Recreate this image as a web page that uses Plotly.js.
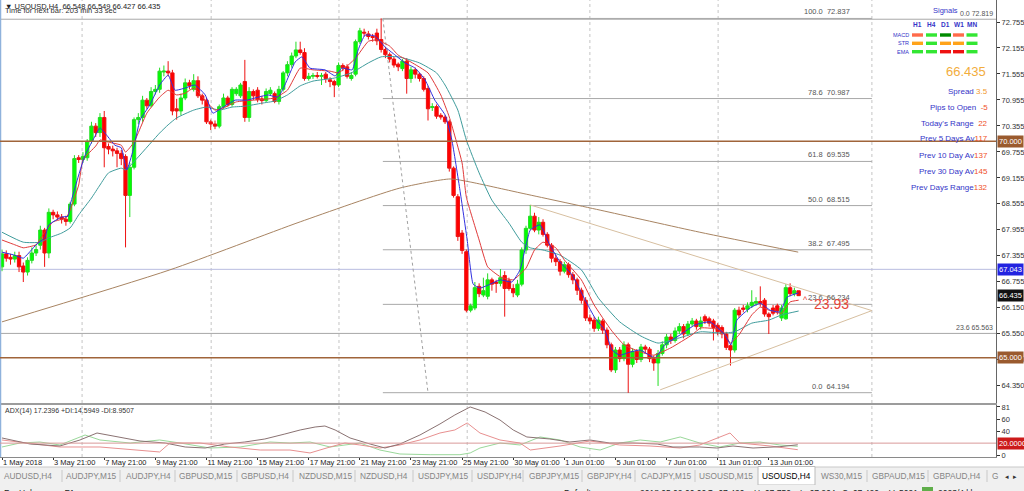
<!DOCTYPE html>
<html><head><meta charset="utf-8">
<script src="https://cdn.plot.ly/plotly-3.0.1.min.js"></script>
<style>html,body{margin:0;padding:0;background:#fff;overflow:hidden}#chart{width:1024px;height:491px}</style>
</head><body><div id="chart"></div>
<script>
// ---------- DATA ----------
const openP = [67.10,67.40,67.32,67.28,67.36,67.12,66.98,67.25,67.42,67.60,67.95,67.42,68.36,68.30,68.25,68.20,68.15,68.55,69.62,69.58,69.62,70.00,70.35,70.20,70.55,69.88,69.82,69.78,69.72,69.65,68.75,69.40,70.50,70.55,70.95,70.82,71.15,71.20,71.60,71.62,71.58,70.75,70.70,71.00,71.35,71.20,71.40,71.05,70.95,70.45,70.40,70.35,70.80,71.00,70.85,71.10,71.05,71.38,70.55,71.15,71.18,70.98,70.94,71.10,71.10,70.92,71.20,71.58,71.77,71.97,72.11,72.05,71.45,71.50,71.52,71.50,71.55,71.42,71.38,71.30,71.75,71.72,71.45,71.55,72.30,72.52,72.48,72.42,72.50,72.35,72.12,72.00,71.90,71.78,71.68,71.85,71.45,71.65,71.55,71.45,71.22,70.78,70.80,70.60,70.56,70.45,69.38,68.72,67.88,67.45,66.10,66.15,66.65,66.45,66.42,66.80,66.75,66.72,66.90,66.78,66.60,66.45,66.70,67.49,67.99,68.27,67.95,68.13,67.85,67.60,67.30,67.22,67.00,67.15,66.92,66.80,66.56,66.33,65.92,65.87,65.68,65.85,65.64,65.30,64.72,65.18,64.98,65.30,64.85,65.15,64.96,65.25,65.20,64.98,64.88,65.10,65.30,65.48,65.40,65.62,65.72,65.55,65.78,65.85,65.72,65.95,65.90,65.85,65.75,65.70,65.55,65.28,65.18,66.10,66.15,66.12,66.20,66.26,66.30,66.33,66.01,66.15,66.20,65.92,65.90,66.62,66.48,66.548];
const highP = [67.50,67.48,67.40,67.45,67.45,67.20,67.32,67.55,67.60,68.05,68.00,68.45,68.42,68.38,68.32,68.28,68.60,69.68,69.68,69.75,70.05,70.45,70.42,70.65,70.70,69.95,69.90,69.85,69.80,69.70,69.50,70.55,70.65,71.05,71.00,71.25,71.30,71.70,71.75,71.85,71.65,70.98,71.10,71.45,71.42,71.55,71.50,71.10,71.00,70.50,70.48,70.85,71.10,71.05,71.25,71.25,71.35,71.88,71.25,71.20,71.25,71.05,71.22,71.25,71.15,71.28,71.62,71.85,72.05,72.30,72.30,72.15,71.58,71.58,71.60,71.58,71.60,71.48,71.42,71.82,71.80,71.78,71.60,72.35,72.62,72.60,72.55,72.48,72.60,72.84,72.18,72.05,71.95,71.82,71.90,71.92,71.72,71.70,71.58,71.50,71.28,70.88,70.85,70.65,70.60,70.50,69.42,68.78,67.95,67.50,66.25,66.75,66.72,66.85,66.95,66.85,66.80,67.05,67.00,66.85,66.70,66.80,67.55,68.05,68.53,68.35,68.25,68.20,67.90,67.65,67.38,67.28,67.22,67.20,66.98,66.85,66.62,66.40,66.00,65.95,65.95,65.90,65.70,65.35,65.25,65.25,65.38,65.35,65.22,65.20,65.32,65.30,65.25,65.05,65.18,65.38,65.55,65.55,65.70,65.80,65.78,65.85,65.92,65.90,65.95,66.00,65.95,65.90,65.80,65.75,65.60,65.32,66.15,66.18,66.22,66.28,66.56,66.40,66.65,66.38,66.05,66.22,66.25,66.22,66.70,66.72,66.62,66.549];
const lowP = [67.00,67.22,67.15,67.20,66.98,66.75,66.90,67.18,67.35,67.50,67.10,67.30,68.20,68.18,68.10,68.05,68.10,68.50,69.50,69.50,69.55,69.95,70.10,70.10,69.40,69.70,69.65,69.40,69.45,67.55,68.25,69.35,70.40,70.45,70.75,70.78,71.08,71.12,71.50,71.50,70.60,70.50,70.60,70.95,71.20,71.15,71.00,70.85,70.40,70.26,70.28,70.30,70.75,70.80,70.80,71.05,71.00,70.45,70.45,70.95,70.90,70.85,70.90,71.05,70.88,70.85,71.15,71.50,71.70,71.92,72.00,71.40,71.40,71.44,71.45,71.30,71.35,71.25,71.02,71.25,71.62,71.45,71.40,71.50,72.25,72.42,72.35,72.30,72.22,72.05,71.92,71.82,71.70,71.62,71.62,71.10,71.35,71.45,71.38,71.15,70.48,70.70,70.52,70.50,70.40,69.30,68.70,67.70,67.40,66.05,66.05,66.10,66.40,66.40,66.35,66.55,66.50,66.65,65.95,66.55,66.40,66.40,66.65,67.40,67.95,67.90,67.85,67.80,67.55,67.20,67.12,66.90,66.95,66.85,66.70,66.45,66.25,65.85,65.78,65.60,65.62,65.55,65.22,64.67,64.65,64.90,64.92,64.19,64.78,64.88,64.90,65.10,64.90,64.70,64.35,65.05,65.22,65.32,65.35,65.55,65.45,65.50,65.72,65.65,65.65,65.78,65.72,65.40,65.52,65.45,65.18,64.82,65.12,65.92,66.05,66.05,66.15,66.20,66.18,65.95,65.55,65.98,66.00,65.85,65.88,66.42,66.42,66.427];
const closeP = [67.40,67.30,67.28,67.36,67.10,66.98,67.25,67.42,67.50,67.95,67.42,68.36,68.30,68.25,68.20,68.15,68.55,69.60,69.58,69.65,70.00,70.35,70.20,70.55,69.85,69.82,69.78,69.72,69.60,68.75,69.40,70.50,70.55,70.95,70.82,71.15,71.20,71.62,71.62,71.58,70.70,70.70,71.00,71.35,71.28,71.40,71.05,70.95,70.45,70.40,70.35,70.80,71.00,70.85,71.20,71.20,71.30,70.55,71.15,71.05,70.96,70.94,71.15,71.18,70.92,71.20,71.58,71.77,71.97,72.11,72.05,71.45,71.50,71.52,71.50,71.52,71.45,71.38,71.30,71.75,71.70,71.50,71.52,72.30,72.55,72.50,72.42,72.40,72.32,72.12,72.00,71.90,71.76,71.72,71.85,71.45,71.65,71.55,71.45,71.20,70.75,70.80,70.58,70.56,70.45,69.38,68.75,67.80,67.48,66.10,66.20,66.62,66.48,66.55,66.80,66.70,66.72,66.85,66.60,66.60,66.50,66.70,67.49,67.99,68.27,67.95,68.13,67.85,67.60,67.30,67.22,67.00,67.15,66.92,66.80,66.56,66.33,65.92,65.85,65.68,65.87,65.64,65.30,64.72,65.18,64.98,65.30,64.85,65.15,64.96,65.25,65.20,64.98,64.88,65.10,65.30,65.48,65.40,65.62,65.72,65.55,65.78,65.85,65.72,65.85,65.85,65.80,65.70,65.60,65.55,65.24,65.18,66.10,65.99,66.12,66.20,66.28,66.30,66.26,66.01,65.95,66.03,66.08,66.15,66.62,66.48,66.55,66.435];

// moving averages (bar index, price)
const emaFastX = [0,3,5,8,10,11,14,15.5,16,18,19.5,22,23,24.5,26.5,28,29.3,30.8,32.4,34.7,37,39,40.6,43,45.3,47.7,49.5,51.6,54.7,57.5,59.4,62.4,64.8,66.4,68.8,70.4,72.3,75.8,78.2,79.8,82.2,83.6,85.2,87.6,89.9,92.3,94.6,97,99.3,101.6,104,105.6,107.5,109.2,110.6,112.2,114.6,116.9,119.7,121.6,124,126.3,128.6,131,133.8,136.9,139.2,141.5,143.2,145,147.4,149.8,153.3,155.6,159.2,162.7,166.2,169.7,171.1,172.5,175.6,178,180.3,182.6,184.3,187];
const emaFastY = [67.44,67.37,67.30,67.61,67.77,68.07,68.25,68.27,68.53,69.22,69.68,70.15,70.31,70.15,69.91,69.85,69.34,69.80,70.49,70.84,71.30,71.53,71.18,71.23,71.30,71.07,70.65,70.77,70.95,70.95,71.00,71.07,71.02,71.30,71.83,71.95,71.69,71.65,71.51,71.69,71.65,72.11,72.45,72.43,72.18,71.99,71.81,71.69,71.42,70.95,70.61,70.03,68.87,67.72,66.70,66.61,66.70,66.80,66.75,67.03,67.95,68.07,67.60,67.21,66.92,66.33,65.92,65.64,65.18,65.06,65.13,65.18,65.00,65.30,65.53,65.76,65.83,65.53,65.30,65.87,66.15,66.26,66.10,66.06,66.40,66.50];
const emaMidX = [0,3,5,8,10,12,15,16,18,19,22,23,25,28,29,31,34,37,39,41,43,45,48,50,52,55,59,64,67,70,73,77,79,83,86,88,91,93,96,100,103,105,108,109,112,114,117,120,123,125,127,130,132,136,139,143,146,150,153,157,162,164,169,171,173,176,178,180,183,185,187];
const emaMidY = [67.72,67.61,67.54,67.61,67.90,68.14,68.23,68.41,68.99,69.57,69.89,70.03,69.98,69.91,69.75,69.98,70.65,71.02,71.18,71.07,71.11,71.23,70.91,70.72,70.77,70.91,70.95,71.00,71.18,71.69,71.65,71.62,71.58,71.92,72.31,72.34,72.20,71.99,71.83,71.58,71.07,70.56,69.50,68.71,67.72,67.10,66.87,66.80,67.07,67.49,67.67,67.54,67.26,66.80,66.22,65.64,65.30,65.13,65.06,65.23,65.53,65.69,65.64,65.34,65.53,65.99,66.17,66.10,66.03,66.29,66.33];
const emaSlowX = [0,5,9,11,14,16,18,21,23,25,28,29,32,37,39,41,45,48,51,54,57,61,64,67,70,73,78,82,86,89,93,98,102,104,107,109,112,115,119,122,124,127,131,136,140,145,150,154,159,164,169,172,176,180,183,187];
const emaSlowY = [67.90,67.67,67.67,67.77,67.88,68.00,68.30,68.69,68.99,69.27,69.38,69.34,69.64,70.19,70.38,70.54,70.72,70.79,70.72,70.79,70.81,70.88,70.93,71.07,71.28,71.39,71.46,71.58,71.81,71.95,71.95,71.81,71.58,71.30,70.72,70.03,69.27,68.64,68.11,67.67,67.54,67.49,67.37,67.03,66.38,65.83,65.50,65.34,65.46,65.60,65.57,65.60,65.80,65.87,65.99,66.08];
const ma200X = [0,39.4,70,93.4,105.2,109.9,121.6,140.4,163.8,186.9];
const ma200Y = [65.83,67.03,68.14,68.92,69.13,69.06,68.81,68.41,67.90,67.44];

// ADX(14) window
const adxX = [0,6.6,13.6,18.3,22.3,26.5,32.4,38.3,43,47.7,52.3,57,61.7,66.4,70,73.5,75.8,78.2,81.7,86.4,89.9,93.4,98.1,102.8,106.3,109.9,113.4,116.9,120,123.2,128.6,133.3,138,142.7,148.1,153.8,157.5,163.8,167.8,171.6,176.3,182.6,186.8];
const adxV = [28.7,18.5,15.2,25.3,37.1,32.0,23.6,20.2,13.5,11.8,18.5,21.9,27.0,35.4,42.2,47.2,48.9,42.2,28.7,18.5,11.8,18.5,33.7,52.3,67.5,81.0,72.5,59.0,42.2,30.4,27.0,21.9,25.3,20.2,20.2,18.5,13.5,13.5,11.8,15.2,11.8,14.0,17.24];
const plusDiX = [0,4.2,8.9,13.6,19.5,23,30.1,37,41.8,48.8,55.9,62.9,67.6,72.3,77,84,88.7,93.4,100.5,107.5,109.9,112.2,116.9,121.6,126.3,131,135.7,140.4,145,149.8,154.5,159.2,163.8,168.5,173.2,177.9,182.6,186.8];
const plusDiV = [13.5,20.2,21.9,16.9,33.7,25.3,20.2,25.3,20.2,11.8,13.5,21.9,20.2,21.9,13.5,20.2,8.4,1.7,0.5,0.5,3.4,11.8,20.2,16.9,30.4,25.3,13.5,8.4,20.2,25.3,21.9,30.4,20.2,13.5,20.2,21.9,16.9,14.59];
const minusDiX = [0,4.2,13.6,23,32.4,37,39.4,46.5,53.5,60.6,67.6,72.3,77,80.5,84,88.7,93.4,98.1,102.8,106.3,109.2,112.2,116.9,121.6,124,131,138,145,152.1,159.2,163.8,170.9,173.2,180.3,186.8];
const minusDiV = [25.3,21.9,13.5,13.5,8.4,5.1,20.2,20.2,13.5,8.4,8.4,3.4,13.5,20.2,16.9,11.8,16.9,25.3,37.1,42.2,54.0,37.1,25.3,20.2,8.4,15.2,23.6,16.9,15.2,11.8,16.9,37.1,20.2,15.2,8.95];
const adxLevel = 20;

// axis labels
const dateTickBars = [0,12,24,36,48,60,72,84,96,108,120,132,144,156,168,180];
const dateTickLabels = ["1 May 2018","3 May 21:00","7 May 21:00","9 May 21:00","11 May 21:00","15 May 21:00","17 May 21:00","21 May 21:00","23 May 21:00","25 May 21:00","30 May 01:00","1 Jun 01:00","5 Jun 01:00","7 Jun 01:00","11 Jun 01:00","13 Jun 01:00"];
const priceTicks = [72.755,72.155,71.555,70.955,70.355,69.755,69.155,68.555,67.955,67.355,66.755,66.155,65.555,64.955,64.355];
const priceTickLabels = ["72.755","72.155","71.555","70.955","70.355","69.755","69.155","68.555","67.955","67.355","66.755","66.150","65.550","64.950","64.350"];
const adxTicks = [81,60,40,0];
const adxTickLabels = ["81","60","40","0"];

// chart objects
const fibLevels = ["100.0","78.6","61.8","50.0","38.2","23.6","0.0"];
const fibPrices = [72.837,70.987,69.535,68.515,67.495,66.234,64.194];
const fib2Levels = ["0.0","23.6"];
const fib2Prices = [72.819,65.563];
const brownLevels = [70.000,65.000];
const blueLevel = 67.043;
const lastPrice = 66.435;
const fibAnchorBar = [89.4, 204.2];
const fibDiagX = [89.4, 100];
const fibDiagY = [72.837, 64.194];
const triUpperX = [124, 204.2];
const triUpperY = [68.53, 66.09];
const triLowerX = [154.5, 204.2];
const triLowerY = [64.26, 66.09];
const weekGridBars = [18.8, 49.1, 79.1, 109.2, 138, 168.1, 204.2];

// signal panel
const sigCols = ["H1","H4","D1","W1","MN"];
const sigRows = ["MACD","STR","EMA"];
const sigColors = [
  ["#ff6a4a","#33e633","#008a00","#ff6a4a","#33e633"],
  ["#ffa31a","#33e633","#ffa31a","#ffa31a","#33e633"],
  ["#33e633","#33e633","#ee1111","#ee1111","#33e633"]
];
const infoLabels = ["Spread ","Pips to Open  ","Today's Range  ","Prev 5 Days Av","Prev 10 Day Av","Prev 30 Day Av","Prev Days Range"];
const infoValues = ["3.5","-5","22","117","137","145","132"];

const tabLabels = ["AUDUSD,H4","AUDJPY,M15","AUDJPY,H4","GBPUSD,M15","GBPUSD,H4","NZDUSD,M15","NZDUSD,H4","USDJPY,M15","USDJPY,H4","GBPJPY,M15","GBPJPY,H4","CADJPY,M15","USOUSD,M15","USOUSD,H4","WS30,M15","GBPAUD,M15","GBPAUD,H4"];
const activeTab = "USOUSD,H4";
const statusTexts = ["For Help, press F1","Default","2018.05.02 00:00","O: 67.426","H: 67.750","L: 67.264","C: 67.420","V: 5091","2023/4 kb"];

// ---------- LAYOUT HELPERS ----------
const PW = 996, PH = 457;           // plot area in px
const px2x = p => p / PW;
const py2y = p => (PH - p) / PH;
const FONT = "Liberation Sans, Arial, sans-serif";

const bars = closeP.map((_, i) => i);

const traces = [
  {type:'scatter', mode:'lines', x:ma200X, y:ma200Y, xaxis:'x', yaxis:'y', line:{color:'#a88462', width:1, shape:'spline', smoothing:0.6}, hoverinfo:'skip'},
  {type:'scatter', mode:'lines', x:fibDiagX, y:fibDiagY, xaxis:'x', yaxis:'y', line:{color:'#a0a0a0', width:1, dash:'dot'}, hoverinfo:'skip'},
  {type:'scatter', mode:'lines', x:triUpperX, y:triUpperY, xaxis:'x', yaxis:'y', line:{color:'#d7bfa0', width:1}, hoverinfo:'skip'},
  {type:'scatter', mode:'lines', x:triLowerX, y:triLowerY, xaxis:'x', yaxis:'y', line:{color:'#d7bfa0', width:1}, hoverinfo:'skip'},
  {type:'scatter', mode:'lines', x:emaSlowX, y:emaSlowY, xaxis:'x', yaxis:'y', line:{color:'#3f9c9c', width:1, shape:'spline', smoothing:0.5}, hoverinfo:'skip'},
  {type:'scatter', mode:'lines', x:emaMidX, y:emaMidY, xaxis:'x', yaxis:'y', line:{color:'#e03a3a', width:1, shape:'spline', smoothing:0.4}, hoverinfo:'skip'},
  {type:'candlestick', x:bars, open:openP, high:highP, low:lowP, close:closeP, xaxis:'x', yaxis:'y',
    increasing:{line:{color:'#22dd22', width:1}, fillcolor:'#00ff00'},
    decreasing:{line:{color:'#ee1111', width:1}, fillcolor:'#ff0000'},
    whiskerwidth:0, hoverinfo:'skip'},
  {type:'scatter', mode:'lines', x:emaFastX, y:emaFastY, xaxis:'x', yaxis:'y', line:{color:'#3030e0', width:1, shape:'spline', smoothing:0.4}, hoverinfo:'skip'},
  {type:'scatter', mode:'lines', x:plusDiX, y:plusDiV, xaxis:'x2', yaxis:'y2', line:{color:'#9ad89a', width:1}, hoverinfo:'skip'},
  {type:'scatter', mode:'lines', x:minusDiX, y:minusDiV, xaxis:'x2', yaxis:'y2', line:{color:'#e89090', width:1}, hoverinfo:'skip'},
  {type:'scatter', mode:'lines', x:adxX, y:adxV, xaxis:'x2', yaxis:'y2', line:{color:'#8a7272', width:1}, hoverinfo:'skip'}
];

const shapes = [];
const annotations = [];

// tab bar + status bar backgrounds (below so axis labels stay visible)
shapes.push({type:'rect', xref:'paper', yref:'paper', layer:'below', x0:px2x(0), x1:px2x(1024), y0:py2y(485), y1:py2y(467), fillcolor:'#f0f0f0', line:{width:0}});
shapes.push({type:'line', xref:'paper', yref:'paper', layer:'below', x0:px2x(0), x1:px2x(1024), y0:py2y(467), y1:py2y(467), line:{color:'#c8c8c8', width:1}});
shapes.push({type:'rect', xref:'paper', yref:'paper', layer:'below', x0:px2x(758), x1:px2x(815), y0:py2y(485), y1:py2y(466.5), fillcolor:'#ffffff', line:{color:'#bcbcbc', width:1}});
shapes.push({type:'rect', xref:'paper', yref:'paper', layer:'below', x0:px2x(0), x1:px2x(1024), y0:py2y(491), y1:py2y(485), fillcolor:'#f0f0f0', line:{width:0}});

// left window border
shapes.push({type:'line', xref:'paper', yref:'paper', x0:px2x(0.5), x1:px2x(0.5), y0:py2y(0), y1:py2y(457), line:{color:'#8fb2dc', width:1.5}});
// weekly grid
weekGridBars.forEach(b => shapes.push({type:'line', xref:'x', yref:'paper', x0:b, x1:b, y0:0, y1:1, layer:'below', line:{color:'#c4c4c4', width:1, dash:'dot'}}));
// full-width levels
brownLevels.forEach(v => shapes.push({type:'line', xref:'paper', yref:'y', x0:0, x1:1, y0:v, y1:v, line:{color:'#a0643a', width:1.5}}));
shapes.push({type:'line', xref:'paper', yref:'y', x0:0, x1:1, y0:blueLevel, y1:blueLevel, layer:'below', line:{color:'#b8bce0', width:1}});
fib2Prices.forEach(v => shapes.push({type:'line', xref:'paper', yref:'y', x0:0, x1:1, y0:v, y1:v, layer:'below', line:{color:'#a8a8a8', width:1}}));
// fib retracement levels
fibPrices.forEach(v => shapes.push({type:'line', xref:'x', yref:'y', x0:fibAnchorBar[0], x1:fibAnchorBar[1], y0:v, y1:v, layer:'below', line:{color:'#a8a8a8', width:1}}));
// ADX level
shapes.push({type:'line', xref:'paper', yref:'y2', x0:0, x1:1, y0:adxLevel, y1:adxLevel, line:{color:'#d99a9a', width:1}});

const ann = (o) => annotations.push(Object.assign({showarrow:false, font:{family:FONT, size:7.5, color:'#444'}}, o));

fibLevels.forEach((lv, k) => ann({xref:'x', yref:'y', x:199.5, y:fibPrices[k], xanchor:'right', yanchor:'bottom', text:lv + '  ' + fibPrices[k].toFixed(3), font:{family:FONT, size:7.5, color:'#555'}}));
fib2Levels.forEach((lv, k) => ann({xref:'paper', yref:'y', x:px2x(995), y:fib2Prices[k], xanchor:'right', yanchor:'bottom', text:lv + ' ' + fib2Prices[k].toFixed(3), font:{family:FONT, size:7, color:'#555'}}));

// header
ann({xref:'paper', yref:'paper', x:px2x(3), y:py2y(0), xanchor:'left', yanchor:'top', text:'▼ USOUSD,H4  66.548 66.549 66.427 66.435', font:{family:FONT, size:7.5, color:'#222'}});
ann({xref:'paper', yref:'paper', x:px2x(3), y:py2y(3.5), xanchor:'left', yanchor:'top', text:'Time for next bar: 203 min 33 sec', font:{family:FONT, size:7.5, color:'#333'}});
ann({xref:'paper', yref:'paper', x:px2x(3), y:py2y(405), xanchor:'left', yanchor:'top', text:'ADX(14) 17.2396 +DI:14.5949 -DI:8.9507', font:{family:FONT, size:7, color:'#333'}});

// red distance marker
ann({xref:'x', yref:'y', x:194.6, y:66.25, xanchor:'center', yanchor:'middle', text:'23.93', font:{family:FONT, size:14, color:'#e6453a'}});
ann({xref:'x', yref:'y', x:187.6, y:66.33, xanchor:'left', yanchor:'middle', text:'^ -', font:{family:FONT, size:9, color:'#e6453a'}});

// price boxes on the axis
const box = (y, yref, text, bg) => ann({xref:'paper', yref:yref, x:1.0015, y:y, xanchor:'left', yanchor:'middle', text:text, bgcolor:bg, borderpad:1, font:{family:FONT, size:7.5, color:'#fff'}});
brownLevels.forEach(v => box(v, 'y', v.toFixed(3), '#9a5a2e'));
box(blueLevel, 'y', blueLevel.toFixed(3), '#2323e0');
box(lastPrice, 'y', lastPrice.toFixed(3), '#111');
box(adxLevel, 'y2', adxLevel.toFixed(4), '#cc1a1a');

// signal panel
ann({xref:'paper', yref:'paper', x:px2x(945), y:py2y(10), xanchor:'center', yanchor:'middle', text:'Signals', font:{family:FONT, size:7.5, color:'#3535c8'}});
const colX = [917.5, 931.5, 945.5, 958.5, 972];
const rowY = [35, 43.3, 51.7];
sigCols.forEach((c, k) => ann({xref:'paper', yref:'paper', x:px2x(colX[k]), y:py2y(24.5), xanchor:'center', yanchor:'middle', text:'<b>' + c + '</b>', font:{family:FONT, size:6.5, color:'#3535c8'}}));
sigRows.forEach((r, j) => {
  ann({xref:'paper', yref:'paper', x:px2x(911), y:py2y(rowY[j]), xanchor:'right', yanchor:'middle', text:r, font:{family:FONT, size:5.5, color:'#3535c8'}});
  sigColors[j].forEach((col, k) => shapes.push({type:'rect', xref:'paper', yref:'paper', x0:px2x(colX[k]-5.5), x1:px2x(colX[k]+5.5), y0:py2y(rowY[j]+1.7), y1:py2y(rowY[j]-1.7), fillcolor:col, line:{width:0}}));
});
ann({xref:'paper', yref:'paper', x:px2x(988), y:py2y(72), xanchor:'right', yanchor:'middle', text:lastPrice.toFixed(3), font:{family:FONT, size:13, color:'#f2ad3c'}});
const infoY = [91, 107, 123, 139, 155, 171, 187];
infoLabels.forEach((t, k) => {
  const vc = k === 0 ? '#f29a2e' : '#f0502a';
  ann({xref:'paper', yref:'paper', x:px2x(990), y:py2y(infoY[k]), xanchor:'right', yanchor:'middle',
       text:'<span style="color:#3535c8">' + t + '</span><span style="color:' + vc + '">' + infoValues[k] + '</span>',
       font:{family:FONT, size:8, color:'#3535c8'}});
});

// tab labels and separators
const tabCenters = [28,91,148,206,265,325,384,443,499,554,609,666,726,786,841,898,957];
const tabSeps = [62,120,175,237,293,355,413,472,523,582,635,695,758,815,867,928,987];
tabSeps.forEach(s => { if (s !== 758 && s !== 815) shapes.push({type:'line', xref:'paper', yref:'paper', x0:px2x(s), x1:px2x(s), y0:py2y(482), y1:py2y(470), line:{color:'#c8c8c8', width:1}}); });
tabLabels.forEach((t, k) => ann({xref:'paper', yref:'paper', x:px2x(tabCenters[k]), y:py2y(476), xanchor:'center', yanchor:'middle', text:t, font:{family:FONT, size:8.3, color: t === activeTab ? '#000' : '#858585'}}));
ann({xref:'paper', yref:'paper', x:px2x(995), y:py2y(476), xanchor:'center', yanchor:'middle', text:'G', font:{family:FONT, size:8.3, color:'#858585'}});
ann({xref:'paper', yref:'paper', x:px2x(1011), y:py2y(476), xanchor:'center', yanchor:'middle', text:'◂  ▸', font:{family:FONT, size:7, color:'#333'}});

// status bar
const statusX = [2, 562, 638, 705, 752, 798, 840, 887, 936];
statusTexts.forEach((t, k) => ann({xref:'paper', yref:'paper', x:px2x(statusX[k]), y:py2y(486), xanchor:'left', yanchor:'top', text:t, font:{family:FONT, size:8.5, color:'#222'}}));
shapes.push({type:'rect', xref:'paper', yref:'paper', x0:px2x(922), x1:px2x(933), y0:py2y(491), y1:py2y(487), fillcolor:'#5fae4a', line:{width:0}});

const layout = {
  width:1024, height:491,
  margin:{l:0, r:28, t:0, b:34},
  paper_bgcolor:'#ffffff', plot_bgcolor:'#ffffff',
  showlegend:false, hovermode:false,
  boxgap:0.12, boxgroupgap:0.12,
  font:{family:FONT, size:7.5, color:'#333'},
  xaxis:{domain:[0,1], anchor:'y', range:[-0.47, 233.33], showticklabels:false, showgrid:false, zeroline:false,
         showline:true, linecolor:'#9c9c9c', linewidth:1.5, rangeslider:{visible:false}, fixedrange:true},
  xaxis2:{domain:[0,1], anchor:'y2', matches:'x', range:[-0.47, 233.33], showgrid:false, zeroline:false,
          tickmode:'array', tickvals:dateTickBars, ticktext:dateTickLabels, ticklabelposition:'outside right',
          tickangle:0, ticklabelstandoff:-2,
          ticks:'outside', ticklen:2, tickcolor:'#333', tickfont:{family:FONT, size:7.5, color:'#222'},
          showline:true, linecolor:'#8a8a8a', linewidth:1, rangeslider:{visible:false}, fixedrange:true},
  yaxis:{domain:[(PH-403)/PH, 1], anchor:'x', side:'right', range:[63.956, 73.263], showgrid:false, zeroline:false,
         tickmode:'array', tickvals:priceTicks, ticktext:priceTickLabels, ticks:'outside', ticklen:3, tickcolor:'#333',
         tickfont:{family:FONT, size:7.5, color:'#333'}, showline:true, linecolor:'#666', linewidth:1, fixedrange:true},
  yaxis2:{domain:[0, (PH-405)/PH], anchor:'x2', side:'right', range:[-3.37, 84.3], showgrid:false, zeroline:false,
          tickmode:'array', tickvals:adxTicks, ticktext:adxTickLabels, ticks:'outside', ticklen:3, tickcolor:'#333',
          tickfont:{family:FONT, size:7.5, color:'#333'}, showline:true, linecolor:'#666', linewidth:1, fixedrange:true},
  shapes:shapes,
  annotations:annotations
};

Plotly.newPlot('chart', traces, layout, {staticPlot:true, displayModeBar:false});
</script>
</body></html>
